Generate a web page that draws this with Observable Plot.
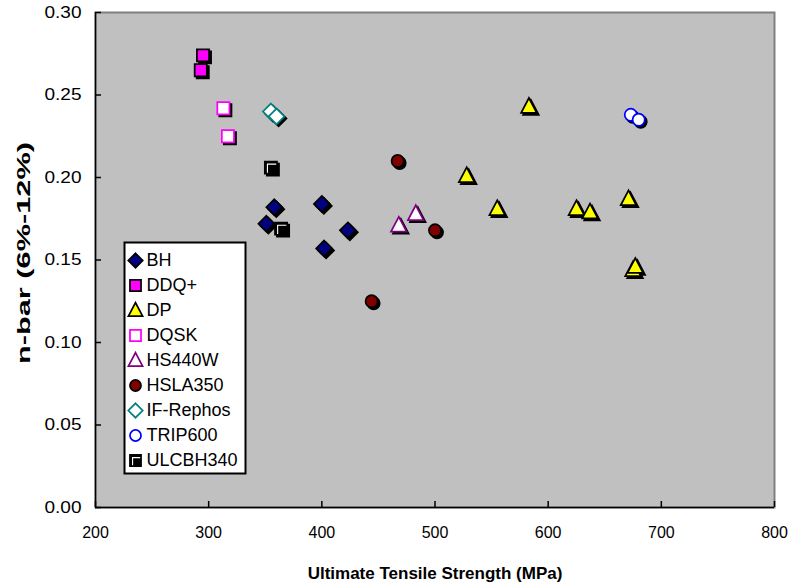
<!DOCTYPE html>
<html><head><meta charset="utf-8">
<script src="https://cdn.jsdelivr.net/npm/d3@7"></script>
<script src="https://cdn.jsdelivr.net/npm/@observablehq/plot@0.6"></script>
<style>
html,body{margin:0;padding:0;background:#fff;}
#wrap{position:relative;width:791px;height:587px;}
#legend{position:absolute;left:123px;top:241px;line-height:0;}
</style></head><body>
<div id="wrap"><div id="chart"></div><div id="legend"></div></div>
<script>
// ---- data ----
const seriesNames = ["BH","DDQ+","DP","DQSK","HS440W","HSLA350","IF-Rephos","TRIP600","ULCBH340"];
const bhUTS = [358, 351, 400, 423, 402];
const bhN = [0.182, 0.172, 0.184, 0.168, 0.157];
const ddqUTS = [295, 293];
const ddqN = [0.274, 0.265];
const dpUTS = [583, 528, 555, 625, 637, 671, 675, 677];
const dpN = [0.243, 0.201, 0.181, 0.181, 0.179, 0.187, 0.144, 0.146];
const dqskUTS = [313, 317];
const dqskN = [0.242, 0.225];
const hs440UTS = [468, 483];
const hs440N = [0.171, 0.178];
const hslaUTS = [467, 444, 500];
const hslaN = [0.210, 0.125, 0.168];
const ifUTS = [355, 360];
const ifN = [0.240, 0.237];
const tripUTS = [673, 680];
const tripN = [0.238, 0.235];
const ulcUTS = [355, 364];
const ulcN = [0.206, 0.169];
const xTicks = [200, 300, 400, 500, 600, 700, 800];
const yTicks = [0, 0.05, 0.10, 0.15, 0.20, 0.25, 0.30];
const xLabel = "Ultimate Tensile Strength (MPa)";
const yLabel = "n-bar (6%-12%)";

const seriesUTS = [bhUTS, ddqUTS, dpUTS, dqskUTS, hs440UTS, hslaUTS, ifUTS, tripUTS, ulcUTS];
const seriesN = [bhN, ddqN, dpN, dqskN, hs440N, hslaN, ifN, tripN, ulcN];
const seriesShape = ["diamond","square","triangle","square","triangle","circle","diamond","circle","square"];
const seriesFill = ["#000080","#FF00FF","#FFFF00","#FFFFFF","#FFFFFF","#800000","#FFFFFF","#FFFFFF","#000000"];
const seriesStroke = ["#000000","#000000","#000000","#FF00FF","#800080","#000000","#008080","#0000FF","#000000"];

// ---- symbols ----
const rad = size => Math.sqrt(size / Math.PI);
const shapes = {
  diamond: {draw(c, size) { const k = rad(size) * 1.2; c.moveTo(0, -k); c.lineTo(k, 0); c.lineTo(0, k); c.lineTo(-k, 0); c.closePath(); }},
  square: {draw(c, size) { const h = rad(size) * 0.92; c.rect(-h, -h, 2 * h, 2 * h); }},
  triangle: {draw(c, size) { const s = rad(size); const w = s * 1.18; c.moveTo(0, -s * 1.3); c.lineTo(w, s * 0.95); c.lineTo(-w, s * 0.95); c.closePath(); }},
  circle: {draw(c, size) { const r = rad(size) * 0.92; c.moveTo(r, 0); c.arc(0, 0, r, 0, 2 * Math.PI); }}
};
const corner = {draw(c, size) { const h = rad(size) * 0.92; const i = 2.6; c.moveTo(-h + i, h - 0.8); c.lineTo(-h + i, -h + i); c.lineTo(h - 0.8, -h + i); }};

const font = "Arial, 'Liberation Sans', sans-serif";
const R = 6.6;

const marks = [
  Plot.frame({fill: "#C0C0C0", stroke: "#808080", strokeWidth: 2}),
  Plot.ruleX([200], {stroke: "#000", strokeWidth: 1.5}),
  Plot.ruleY([0], {stroke: "#000", strokeWidth: 1.5}),
  Plot.axisX({ticks: xTicks, tickSize: 0, tickPadding: 19, label: null, fontSize: 16, tickFormat: d3.format("d")}),
  Plot.axisX({ticks: xTicks, tickSize: -6, text: null, label: null, strokeWidth: 1.5}),
  Plot.axisY({ticks: yTicks, tickSize: 0, tickPadding: 14, label: null, fontSize: 16, tickFormat: d3.format(".2f")}),
  Plot.axisY({ticks: yTicks, tickSize: -6, text: null, label: null, strokeWidth: 1.5}),
  Plot.text([xLabel], {frameAnchor: "bottom", dy: 66, fontWeight: "bold", fontSize: 17, lineAnchor: "middle"}),
  Plot.text([yLabel], {frameAnchor: "left", dx: -71, dy: 104, rotate: -90, textAnchor: "start", fontWeight: "bold", fontSize: 18, lineAnchor: "middle"})
];

seriesNames.forEach((name, i) => {
  const data = seriesUTS[i].map((u, j) => ({uts: u, n: seriesN[i][j]}));
  const sym = shapes[seriesShape[i]];
  marks.push(Plot.dot(data, {x: "uts", y: "n", symbol: sym, r: R, fill: "#000", stroke: "#000", strokeWidth: 1.75, dx: 2, dy: 2}));
  marks.push(Plot.dot(data, {x: "uts", y: "n", symbol: sym, r: R, fill: seriesFill[i], stroke: seriesStroke[i], strokeWidth: 1.75}));
  if (name === "ULCBH340") marks.push(Plot.dot(data, {x: "uts", y: "n", symbol: corner, r: R, fill: "none", stroke: "#fff", strokeWidth: 1.1}));
});

const chart = Plot.plot({
  width: 791, height: 587,
  marginLeft: 95, marginRight: 17, marginTop: 12, marginBottom: 80,
  x: {domain: [200, 800]},
  y: {domain: [0, 0.30]},
  style: {fontFamily: font, fontSize: "16px", color: "#000", background: "#fff", overflow: "visible"},
  marks
});
// stretch texts to match the reference's proportions
chart.querySelectorAll('g[aria-label="y-axis tick label"] text').forEach(t => {
  t.setAttribute("textLength", 37); t.setAttribute("lengthAdjust", "spacingAndGlyphs");
});
chart.querySelectorAll("text").forEach(t => {
  if (t.textContent === yLabel) { t.setAttribute("textLength", 222); t.setAttribute("lengthAdjust", "spacingAndGlyphs"); }
});
document.getElementById("chart").appendChild(chart);

// ---- legend ----
const LR = 6;
const legendMarks = [Plot.frame({stroke: "#000", strokeWidth: 2, fill: "#fff", inset: 1})];
seriesNames.forEach((name, i) => {
  const sym = shapes[seriesShape[i]];
  legendMarks.push(Plot.dot([name], {y: d => d, frameAnchor: "left", dx: 12, symbol: sym, r: LR, fill: seriesFill[i], stroke: seriesStroke[i], strokeWidth: 1.75}));
  if (name === "ULCBH340") legendMarks.push(Plot.dot([name], {y: d => d, frameAnchor: "left", dx: 12, symbol: corner, r: LR, fill: "none", stroke: "#fff", strokeWidth: 1.1}));
});
legendMarks.push(Plot.text(seriesNames, {y: d => d, frameAnchor: "left", dx: 23, textAnchor: "start", fontSize: 18}));
const legend = Plot.plot({
  width: 123, height: 233, margin: 0,
  y: {type: "point", domain: seriesNames, range: [15, 222], padding: 0, axis: null},
  style: {fontFamily: font, color: "#000", background: "transparent", overflow: "visible"},
  marks: legendMarks
});
document.getElementById("legend").appendChild(legend);
</script>
</body></html>
